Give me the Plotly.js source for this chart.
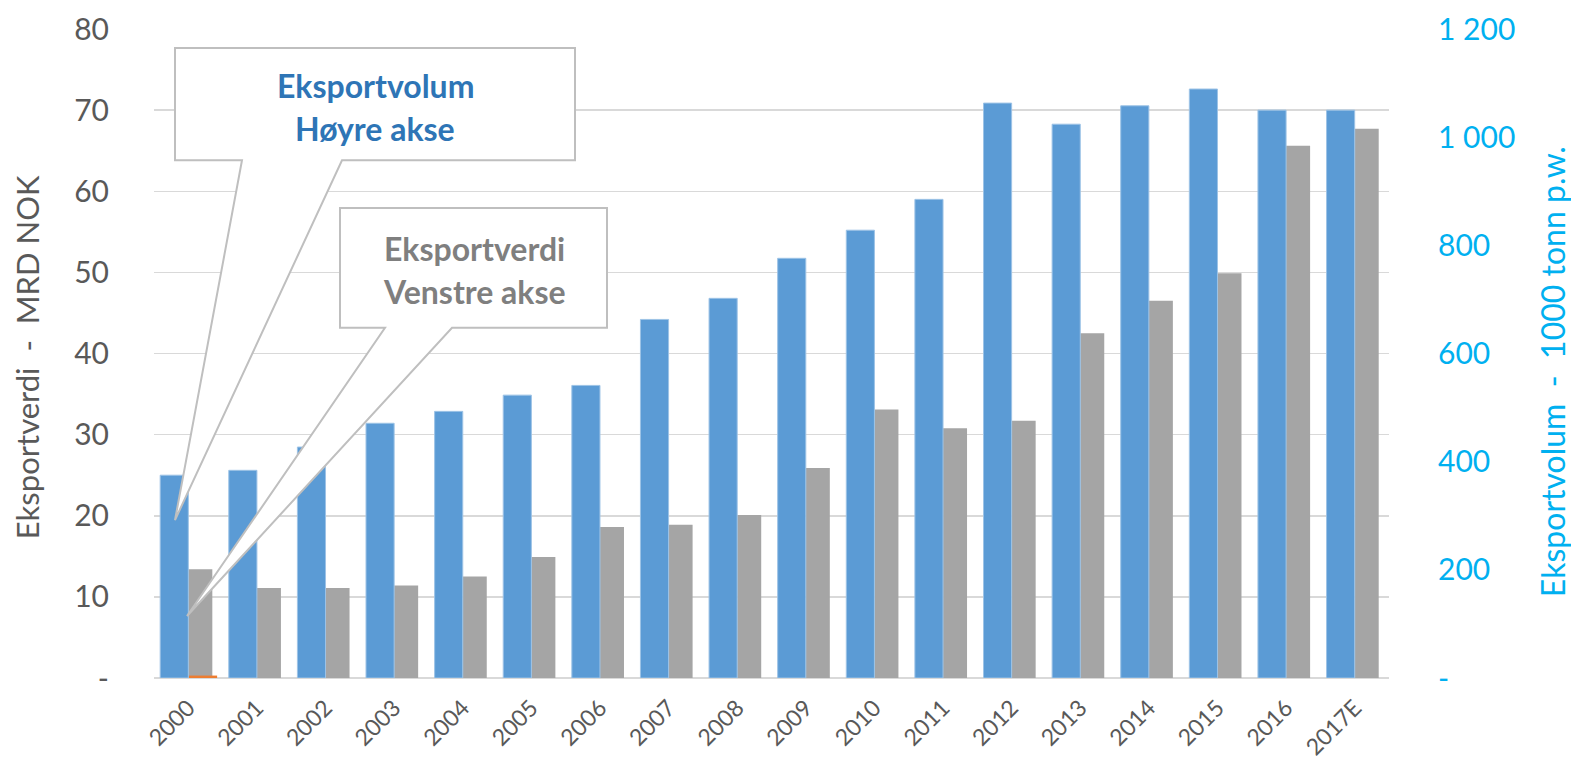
<!DOCTYPE html>
<html>
<head>
<meta charset="utf-8">
<script src="https://cdn.plot.ly/plotly-3.0.1.min.js"></script>
<style>html,body{margin:0;padding:0;background:#fff;}#chart{width:1571px;height:759px;}</style>
</head>
<body>
<div id="chart"></div>
<script>
// ---- data ----
const categories = ['2000','2001','2002','2003','2004','2005','2006','2007','2008','2009','2010','2011','2012','2013','2014','2015','2016','2017E'];
// Eksportvolum (1000 tonn p.w.) – right axis
const eksportvolum = [375,384,427,471,493,523,541,663,702,776,828,885,1063,1024,1058,1089,1050,1050];
// Eksportverdi (MRD NOK) – left axis
const eksportverdi = [13.4,11.1,11.1,11.4,12.5,14.9,18.6,18.9,20.1,25.9,33.1,30.8,31.7,42.5,46.5,49.9,65.6,67.7];
// small orange series (left axis)
const orangeSeries = [0.3,0,0,0,0,0,0,0,0,0,0,0,0,0,0,0,0,0];
const leftTickVals = [0,10,20,30,40,50,60,70,80];
const leftTickText = ['-','10','20','30','40','50','60','70','80'];
const rightTickVals = [0,200,400,600,800,1000,1200];
const rightTickText = ['-','200','400','600','800','1 000','1 200'];
const leftTitle = 'Eksportverdi  -  MRD NOK';
const rightTitle = 'Eksportvolum  -  1000 tonn p.w.';

// ---- layout geometry (pixels) ----
const W = 1571, H = 759;
const L = 154, R = 1389, T = 28.7, B = 678;
const px = x => (x - L) / (R - L);
const py = y => (B - y) / (B - T);

function callout(box, wl, wr, tip) {
  const [x0, y0, x1, y1] = box;
  const p = [[x0,y0],[x1,y0],[x1,y1],[wr,y1],tip,[wl,y1],[x0,y1]];
  return {
    type: 'path', xref: 'paper', yref: 'paper', layer: 'above',
    path: 'M' + p.map(q => px(q[0]).toFixed(5) + ',' + py(q[1]).toFixed(5)).join(' L') + ' Z',
    fillcolor: '#FFFFFF', line: {color: '#BFBFBF', width: 2}
  };
}

const font = 'Lato, "Open Sans", sans-serif';

const traces = [
  {type: 'bar', name: 'Eksportvolum', x: categories, y: eksportvolum, yaxis: 'y2',
   offset: -0.41, width: 0.41, marker: {color: '#5B9BD5', line: {color: '#9DC3E6', width: 1}}},
  {type: 'bar', name: 'Eksportverdi', x: categories, y: eksportverdi, yaxis: 'y',
   offset: 0, width: 0.35, marker: {color: '#A5A5A5'}},
  {type: 'bar', name: 'Annet', x: categories, y: orangeSeries, yaxis: 'y',
   offset: 0, width: 0.42, marker: {color: '#ED7D31'}}
];

function note(x, y, text, size, color, extra) {
  return Object.assign({xref: 'paper', yref: 'paper', x: px(x), y: py(y), text: text, showarrow: false,
    font: {size: size, color: color, family: font}, xanchor: 'center', yanchor: 'middle'}, extra || {});
}

const layout = {
  width: W, height: H,
  margin: {l: L, r: W - R, t: T, b: H - B, pad: 0},
  paper_bgcolor: '#FFFFFF', plot_bgcolor: '#FFFFFF',
  showlegend: false, barmode: 'overlay',
  font: {family: font, color: '#595959'},
  xaxis: {
    type: 'category', tickangle: -45, tickfont: {size: 23, color: '#595959'},
    showgrid: false, zeroline: false, showline: false, ticks: '', ticklabelstandoff: 11
  },
  yaxis: {
    range: [0, 80], tickvals: leftTickVals, ticktext: leftTickText,
    tickfont: {size: 30, color: '#595959'}, ticklabelstandoff: 44,
    showgrid: true, gridcolor: '#D9D9D9', gridwidth: 1.5,
    zeroline: true, zerolinecolor: '#D9D9D9', zerolinewidth: 2.5, showline: false
  },
  yaxis2: {
    range: [0, 1200], overlaying: 'y', side: 'right',
    tickvals: rightTickVals, ticktext: rightTickText,
    tickfont: {size: 30, color: '#00B0F0'}, ticklabelstandoff: 48,
    showgrid: false, zeroline: false, showline: false
  },
  shapes: [
    callout([175, 47.7, 575, 160], 242, 342, [175, 520]),
    callout([340, 207.7, 607, 327.7], 385, 452, [187, 616])
  ],
  annotations: [
    note(375, 85, '<b>Eksportvolum</b>', 32, '#2E75B6'),
    note(375, 128, '<b>Høyre akse</b>', 32, '#2E75B6'),
    note(474, 248, '<b>Eksportverdi</b>', 32, '#7F7F7F'),
    note(474, 291, '<b>Venstre akse</b>', 32, '#7F7F7F'),
    note(27, 357, leftTitle, 31, '#595959', {textangle: -90}),
    note(1552, 372, rightTitle, 32, '#00B0F0', {textangle: -90})
  ]
};

Plotly.newPlot('chart', traces, layout, {staticPlot: true, displayModeBar: false});
</script>
</body>
</html>
